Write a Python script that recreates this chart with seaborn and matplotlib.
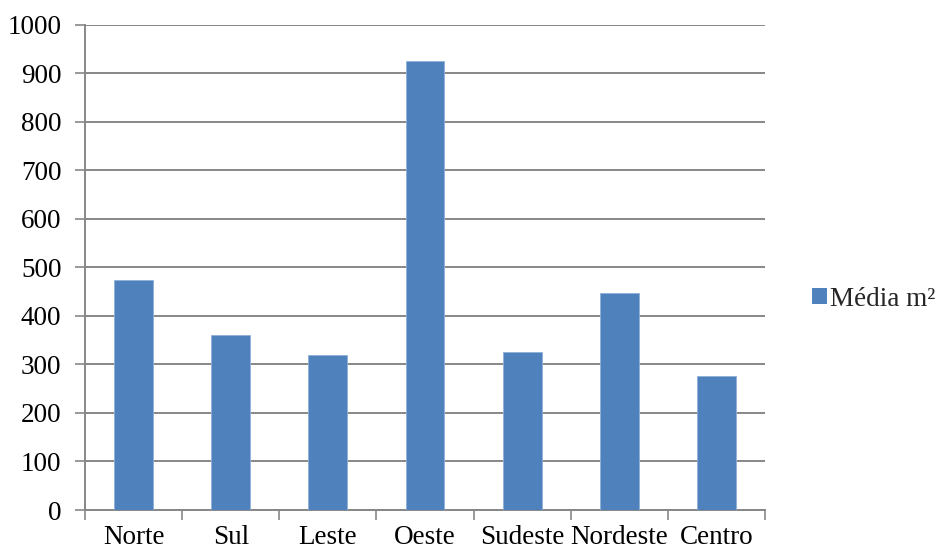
import matplotlib
matplotlib.use("Agg")
import matplotlib.pyplot as plt
from matplotlib.patches import Patch
from matplotlib.ticker import FixedLocator, MultipleLocator
from matplotlib.font_manager import FontProperties
import seaborn as sns
import pandas as pd

# Average area per region (m²)
regioes = ["Norte", "Sul", "Leste", "Oeste", "Sudeste", "Nordeste", "Centro"]
media_m2 = [474, 360, 320, 924, 325, 447, 276]
serie = "Média m²"

cor_barra = "#4F81BD"
cor_grade = "#878787"
tam_fonte = 19.5

sns.set_theme(style="white")
plt.rcParams["font.family"] = ["Liberation Serif", "DejaVu Serif"]

df = pd.DataFrame({"Região": regioes, "Valor": media_m2})

fig = plt.figure(figsize=(9.39, 5.53), dpi=100)
ax = fig.add_axes([85 / 939, 1 - 510 / 553, 680 / 939, (510 - 24.5) / 553])

sns.barplot(data=df, x="Região", y="Valor", color=cor_barra, width=0.4,
            saturation=1, ax=ax, zorder=3)
for p in ax.patches:
    p.set_edgecolor("#8FB0D8")
    p.set_linewidth(0.6)

ax.set_xlim(-0.5, len(regioes) - 0.5)
ax.set_ylim(0, 1000)
ax.yaxis.set_major_locator(MultipleLocator(100))
ax.grid(axis="y", color=cor_grade, linewidth=1.4, zorder=0)
ax.set_axisbelow(True)

# Category boundary tick marks below the axis
ax.xaxis.set_minor_locator(FixedLocator([i - 0.5 for i in range(len(regioes) + 1)]))
ax.tick_params(axis="x", which="major", length=0, pad=11, labelsize=tam_fonte, colors="black")
ax.tick_params(axis="x", which="minor", length=7, width=1.2, color=cor_grade, bottom=True)
ax.tick_params(axis="y", which="major", length=7, width=1.2, color=cor_grade,
               left=True, pad=10, labelsize=tam_fonte, labelcolor="black")

for side in ["top", "right"]:
    ax.spines[side].set_visible(False)
for side in ["left", "bottom"]:
    ax.spines[side].set_color(cor_grade)
    ax.spines[side].set_linewidth(1.4)

ax.set_xlabel("")
ax.set_ylabel("")

fonte_leg = FontProperties(family=["Liberation Serif", "DejaVu Serif"], size=tam_fonte)
leg = fig.legend(handles=[Patch(facecolor=cor_barra, edgecolor="none", label=serie)],
                 loc="center left", bbox_to_anchor=(812 / 939, 1 - 299 / 553),
                 frameon=False, prop=fonte_leg, handlelength=0.55, handleheight=0.55,
                 handletextpad=0.1, borderaxespad=0, borderpad=0)

fig.savefig("out.png", dpi=100, facecolor="white")
